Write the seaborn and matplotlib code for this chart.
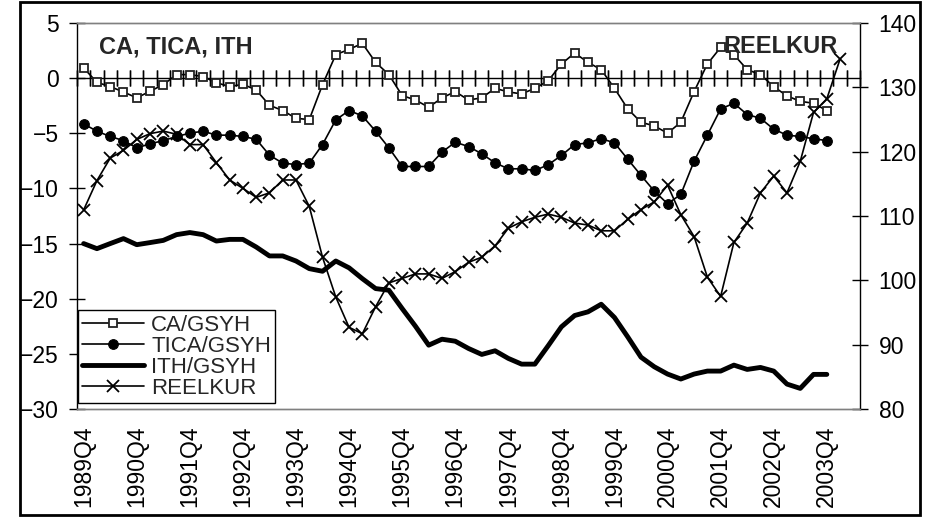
import numpy as np
import pandas as pd
import seaborn as sns
import matplotlib.pyplot as plt
from matplotlib.patches import Rectangle

# quarters from 1989Q4 to 2004Q2 (last one is empty on the chart)
quarters = ["1989Q4"] + [f"{y}Q{q}" for y in range(1990, 2004) for q in range(1, 5)] \
    + ["2004Q1", "2004Q2"]
tick_labels = [f"{y}Q4" for y in range(1989, 2004)]

ca = [0.92, -0.38, -0.77, -1.25, -1.79, -1.19, -0.59, 0.32, 0.32, 0.14,
      -0.41, -0.77, -0.56, -1.07, -2.46, -2.94, -3.64, -3.76, -0.59, 2.13,
      2.61, 3.15, 1.43, 0.32, -1.58, -1.98, -2.64, -1.79, -1.22, -1.98,
      -1.79, -0.92, -1.25, -1.43, -0.92, -0.25, 1.28, 2.28, 1.43, 0.77,
      -0.92, -2.79, -4.0, -4.33, -4.99, -4.0, -1.22, 1.28, 2.79, 2.13,
      0.77, 0.32, -0.77, -1.61, -2.1, -2.28, -2.94]
tica = [-4.15, -4.81, -5.29, -5.66, -6.32, -5.96, -5.66, -5.29, -4.99, -4.81,
        -5.17, -5.17, -5.29, -5.54, -6.98, -7.71, -7.83, -7.71, -6.02, -3.78,
        -2.94, -3.42, -4.81, -6.32, -8.01, -8.01, -8.01, -6.71, -5.81, -6.2,
        -6.86, -7.68, -8.22, -8.22, -8.37, -7.86, -7.01, -6.02, -5.87, -5.48,
        -5.87, -7.35, -8.82, -10.24, -11.39, -10.54, -7.53, -5.17, -2.79, -2.28,
        -3.3, -3.64, -4.63, -5.17, -5.29, -5.5, -5.66]
ith = [-15.0, -15.46, -15.0, -14.55, -15.1, -14.91, -14.71, -14.19, -14.0, -14.19,
       -14.77, -14.62, -14.62, -15.31, -16.12, -16.12, -16.58, -17.27, -17.51, -16.58,
       -17.2, -18.18, -19.08, -19.23, -20.89, -22.49, -24.21, -23.67, -23.85, -24.51,
       -25.05, -24.72, -25.41, -25.93, -25.93, -24.27, -22.55, -21.52, -21.19, -20.5,
       -21.7, -23.46, -25.3, -26.17, -26.83, -27.28, -26.83, -26.56, -26.56, -26.02,
       -26.41, -26.23, -26.56, -27.74, -28.13, -26.86, -26.86]
reelkur = [110.95, 115.5, 119.0, 120.2, 121.9, 122.8, 123.2, 122.7, 121.1, 121.1,
           118.3, 115.6, 114.3, 112.9, 113.6, 115.6, 115.6, 111.5, 103.6, 97.4,
           92.7, 91.7, 95.9, 99.6, 100.3, 101.0, 101.0, 100.3, 101.35, 102.8,
           103.6, 105.35, 108.1, 109.1, 109.8, 110.3, 109.8, 108.9, 108.6, 107.7,
           107.7, 109.5, 111.0, 112.2, 114.8, 110.2, 106.8, 100.5, 97.5, 105.9,
           108.9, 113.6, 116.2, 113.6, 118.5, 126.1, 128.2, 134.4]

sns.set_theme(style="white")
plt.rcParams['font.family'] = ['Liberation Sans', 'DejaVu Sans']

left = pd.DataFrame({"i": np.arange(len(ca)), "CA": ca, "TICA": tica, "ITH": ith})
right = pd.DataFrame({"i": np.arange(len(reelkur)), "REELKUR": reelkur})

fig = plt.figure(figsize=(9.28, 5.19), dpi=100)
ax = fig.add_axes([0.083, 0.2119, 0.8437, 0.7438])
ax2 = ax.twinx()

sns.lineplot(data=left, x="i", y="CA", ax=ax, color="black", lw=1.2,
             marker="s", ms=6, mfc="white", mec="#222222", mew=1.3,
             label="CA/GSYH", legend=False)
sns.lineplot(data=left, x="i", y="TICA", ax=ax, color="black", lw=1.2,
             marker="o", ms=7, mfc="black", mec="black",
             label="TICA/GSYH", legend=False)
sns.lineplot(data=left, x="i", y="ITH", ax=ax, color="black", lw=3.5,
             label="ITH/GSYH", legend=False)
sns.lineplot(data=right, x="i", y="REELKUR", ax=ax2, color="black", lw=1.2,
             marker="x", ms=8, mew=1.3, mec="black",
             label="REELKUR", legend=False)

ax.set_xlim(-0.5, len(quarters) - 0.5)
ax.set_ylim(-30, 5)
ax2.set_ylim(80, 140)
ax.set_yticks(np.arange(-30, 6, 5))
ax2.set_yticks(np.arange(80, 141, 10))
ax.set_xticks(np.arange(0, len(quarters), 4)[:len(tick_labels)])
ax.set_xticklabels(tick_labels, rotation=90)
for a in (ax, ax2):
    a.set_xlabel("")
    a.set_ylabel("")

ax.tick_params(axis="x", length=0, pad=12, labelsize=16.5, colors="black")
ax.tick_params(axis="y", direction="inout", length=12, width=1, pad=7,
               labelsize=16.5, colors="black", left=True)
ax2.tick_params(axis="y", direction="inout", length=11, width=1, pad=8,
                labelsize=16.5, colors="black", right=True)

for a in (ax, ax2):
    a.spines["top"].set_color("#808080")
    a.spines["bottom"].set_color("#808080")
    a.spines["left"].set_color("black")
    a.spines["right"].set_color("black")
    for s in a.spines.values():
        s.set_linewidth(1)
ax.spines["right"].set_visible(False)
ax2.spines["left"].set_visible(False)

# category axis crossing at zero, with ticks between quarters
zero_pos = (0 - (-30)) / 35
sec = ax.secondary_xaxis(zero_pos)
sec.set_xticks(np.arange(-0.5, len(quarters), 1))
sec.set_xticklabels([])
sec.tick_params(axis="x", direction="inout", length=11.5, width=1,
                colors="black", top=True, bottom=True)
for s in sec.spines.values():
    s.set_color("black")
    s.set_linewidth(1)

ax.text(0.028, 0.938, "CA, TICA, ITH", transform=ax.transAxes,
        fontsize=17, fontweight="bold", ha="left", va="center")
ax.text(0.972, 0.938, "REELKUR", transform=ax.transAxes,
        fontsize=17, fontweight="bold", ha="right", va="center")

h1, l1 = ax.get_legend_handles_labels()
h2, l2 = ax2.get_legend_handles_labels()
leg = ax2.legend(h1 + h2, l1 + l2, loc="lower left", bbox_to_anchor=(0.001, 0.015),
                 fontsize=16, frameon=True, fancybox=False, edgecolor="black",
                 framealpha=1, numpoints=1, handlelength=2.8, handletextpad=0.3,
                 labelspacing=0.0, borderpad=0.2, borderaxespad=0)
leg.get_frame().set_linewidth(1)

fig.patches.append(Rectangle((0.0216, 0.0077), 0.9698, 0.988, transform=fig.transFigure,
                             fill=False, lw=2, edgecolor="black"))

fig.savefig("out.png", dpi=100, facecolor="white")
